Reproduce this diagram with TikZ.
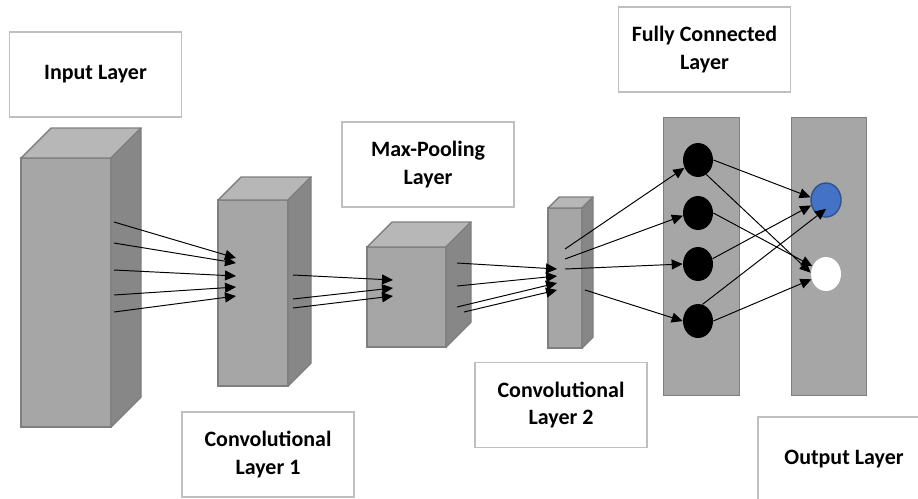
\documentclass[tikz,border=0pt]{standalone}
\usepackage{fontspec}
\setmainfont{Carlito}
\usetikzlibrary{shapes.geometric, arrows.meta, calc}
\definecolor{frontgray}{HTML}{A6A6A6}
\definecolor{topgray}{HTML}{B7B7B7}
\definecolor{sidegray}{HTML}{878787}
\definecolor{edgegray}{HTML}{7F7F7F}
\definecolor{boxgray}{HTML}{BFBFBF}
\definecolor{outblue}{HTML}{4472C4}
\definecolor{outblueedge}{HTML}{2F528F}
\tikzset{
	lbl/.style={rectangle, draw=boxgray, line width=0.8pt, fill=white, minimum width=3.44cm, minimum height=1.7cm, align=center, font=\fontsize{12.5}{15.5}\selectfont\bfseries},
	front/.style={rectangle, fill=frontgray, draw=edgegray, line width=0.8pt, inner sep=0pt, outer sep=0pt},
	topface/.style={fill=topgray, draw=edgegray, line width=0.8pt, line join=round},
	sideface/.style={fill=sidegray, draw=edgegray, line width=0.8pt, line join=round},
	panel/.style={rectangle, fill=frontgray, draw=edgegray, line width=0.8pt, inner sep=0pt},
	neuron/.style={ellipse, fill=black, minimum width=6mm, minimum height=6.8mm, inner sep=0pt},
	arr/.style={draw, line width=0.55pt, -{Triangle[length=2.2mm, width=2mm]}}
}
% cuboid: name, x, y (front north west), width, height, depth
\newcommand{\cuboid}[6]{%
	\node[front, anchor=north west, minimum width=#4*0.02cm, minimum height=#5*0.02cm] (#1) at (#2,#3) {};
	\filldraw[topface] (#1.north west) -- ++(#6,-#6) -- ++(#4,0) -- (#1.north east) -- cycle;
	\filldraw[sideface] (#1.north east) -- ++(#6,-#6) -- ++(0,#5) -- (#1.south east) -- cycle;
}
\begin{document}
\begin{tikzpicture}[x=0.02cm, y=-0.02cm]
	\useasboundingbox (0,0) rectangle (918,498);
	\clip (0,0) rectangle (918,498);
	
	% --- Labels ---
	\node[lbl] (inputlbl) at (95.5,74.5) {Input Layer};
	\node[lbl] (poollbl) at (428,164.5) {Max-Pooling\\Layer};
	\node[lbl] (fclbl) at (704.5,49.5) {Fully Connected\\Layer};
	\node[lbl] (convlbl1) at (268,454.5) {Convolutional\\Layer 1};
	\node[lbl] (convlbl2) at (561,405) {Convolutional\\Layer 2};
	\node[lbl] (outlbl) at (844,459.5) {Output Layer};
	
	% --- Feature maps ---
	\cuboid{in}{21}{158}{90}{269}{30}
	\cuboid{conv1}{218}{200}{70}{186}{23}
	\cuboid{pool}{367}{247}{79}{100}{25}
	\cuboid{conv2}{548}{208}{34}{140}{11}
	
	% --- Dense layers ---
	\node[panel, anchor=north west, minimum width=1.52cm, minimum height=5.56cm] (fc) at (663,117) {};
	\node[panel, anchor=north west, minimum width=1.5cm, minimum height=5.56cm] (out) at (791,117) {};
	
	\foreach \i/\y in {1/160, 2/213, 3/264, 4/321}
		\node[neuron] (n\i) at (698,\y) {};
	\node[neuron, fill=outblue, draw=outblueedge, line width=0.8pt] (o1) at (826,200) {};
	\node[neuron, fill=white] (o2) at (826,274) {};
	
	% --- Input -> Conv 1 ---
	\foreach \i/\a/\b in {1/222/258, 2/243/263, 3/270/276, 4/295/287, 5/312/296} {
		\coordinate (in-o\i) at (114,\a);
		\coordinate (conv1-i\i) at (236,\b);
		\draw[arr] (in-o\i) -- (conv1-i\i);
	}
	
	% --- Conv 1 -> Max-Pooling ---
	\foreach \i/\a/\b in {1/275/280, 2/299/288, 3/308/296} {
		\coordinate (conv1-o\i) at (293,\a);
		\coordinate (pool-i\i) at (393,\b);
		\draw[arr] (conv1-o\i) -- (pool-i\i);
	}
	
	% --- Max-Pooling -> Conv 2 ---
	\foreach \i/\x/\a/\b in {1/457/263/269, 2/457/286/276, 3/457/307/283, 4/464/312/290} {
		\coordinate (pool-o\i) at (\x,\a);
		\coordinate (conv2-i\i) at (557,\b);
		\draw[arr] (pool-o\i) -- (conv2-i\i);
	}
	
	% --- Conv 2 -> Fully connected ---
	\coordinate (conv2-o1) at (565,249);
	\coordinate (conv2-o2) at (565,259);
	\coordinate (conv2-o3) at (565,269);
	\coordinate (conv2-o4) at (585,290);
	\draw[arr] (conv2-o1) -- (n1.210);
	\draw[arr] (conv2-o2) -- (n2.190);
	\draw[arr] (conv2-o3) -- (n3.west);
	\draw[arr] (conv2-o4) -- (n4.west);
	
	% --- Fully connected -> Output ---
	\draw[arr] (n1.east) -- (o1.170);
	\draw[arr] (n1.-60) -- (o2.175);
	\draw[arr] (n2.east) -- (o2.150);
	\draw[arr] (n3.20) -- (o1.200);
	\draw[arr] (n4.75) -- ($(o1.center)!0.5!(o1.south)$);
	\draw[arr] (n4.east) -- (o2.200);
	
\end{tikzpicture}
\end{document}
